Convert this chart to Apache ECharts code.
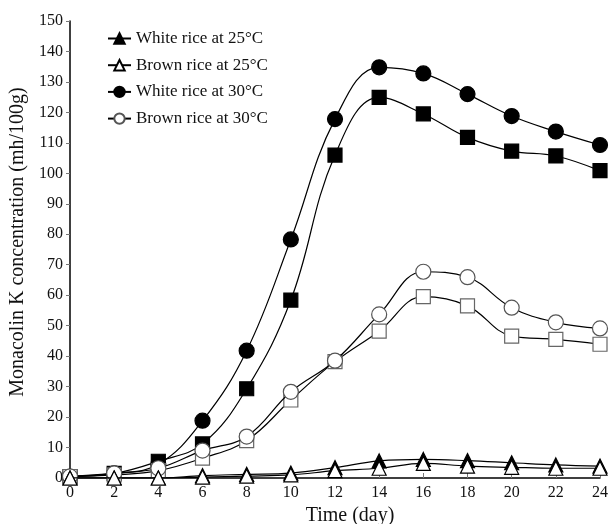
<!DOCTYPE html>
<html><head><meta charset="utf-8">
<script src="https://cdn.jsdelivr.net/npm/echarts@6/dist/echarts.min.js"></script>
<style>html,body{margin:0;padding:0;background:#fff}#c{width:610px;height:524px}</style>
</head><body><div id="c"></div>
<script>
const days = [0,2,4,6,8,10,12,14,16,18,20,22,24];
const whiteRice25 = [0,0,0,0.8,1.2,1.6,3.4,5.6,6.1,5.7,5.0,4.3,3.9];
const brownRice25 = [0,0,0,0.3,0.6,1.0,2.4,3.2,4.8,3.9,3.5,3.2,3.2];
const whiteRice30 = [0.5,1.5,4.5,18.8,41.8,78.3,117.8,134.8,132.8,126,118.8,113.7,109.3];
const whiteRiceSq = [0.5,1.5,5.5,11.2,29.3,58.4,106,124.9,119.5,111.8,107.3,105.7,100.9];
const brownRice30 = [0.5,1.5,3.2,9.0,13.6,28.3,38.5,53.7,67.7,65.9,55.9,51.1,49.1];
const brownRiceSq = [0.5,1.0,2.4,6.5,12.3,25.6,38.2,48.2,59.5,56.5,46.6,45.5,43.9];
const yTicks = {min:0,max:150,interval:10};
const xTicks = {min:0,max:24,interval:2};

const font = 'Liberation Serif, Times New Roman, serif';
function pairs(v){return days.map((d,i)=>[d,v[i]]);}
function mk(name,data,symbol,fill,border,z){
  return {name,type:'line',data:pairs(data),smooth:0.4,symbol,symbolSize:symbol==='triangle'?14:(symbol==='rect'?14:15),
    lineStyle:{color:'#000',width:1.2},itemStyle:{color:fill,borderColor:border,borderWidth:1.2},z,
    emphasis:{disabled:true}};
}
const chart = echarts.init(document.getElementById('c'),null,{renderer:'canvas'});
chart.setOption({
  animation:false,
  grid:{left:70,right:10,top:21,bottom:46,containLabel:false,outerBoundsMode:'none'},
  legend:{orient:'vertical',left:107,top:30,padding:0,itemWidth:23,itemHeight:13,itemGap:9.7,
    data:['White rice at 25°C','Brown rice at 25°C','White rice at 30°C','Brown rice at 30°C'],
    textStyle:{fontFamily:font,fontSize:17,color:'#111'}},
  xAxis:{type:'value',min:xTicks.min,max:xTicks.max,interval:xTicks.interval,
    name:'Time (day)',nameLocation:'middle',nameGap:19,
    nameTextStyle:{fontFamily:font,fontSize:20,color:'#111',padding:[0,0,0,30]},
    axisLine:{lineStyle:{color:'#000',width:1.5}},axisTick:{inside:true,length:5,lineStyle:{color:'#777'}},
    axisLabel:{fontFamily:font,fontSize:16,color:'#111',margin:7},splitLine:{show:false}},
  yAxis:{type:'value',min:yTicks.min,max:yTicks.max,interval:yTicks.interval,
    name:'Monacolin K concentration (mh/100g)',nameLocation:'middle',nameGap:40,
    nameTextStyle:{fontFamily:font,fontSize:20,color:'#111',padding:[0,0,0,15]},
    axisLine:{show:true,lineStyle:{color:'#000',width:1.5}},axisTick:{show:true,length:4,lineStyle:{color:'#777'}},
    axisLabel:{fontFamily:font,fontSize:16,color:'#111',margin:7},splitLine:{show:false}},
  series:[
    mk('White rice (square)',whiteRiceSq,'rect','#000','#000',3),
    mk('White rice at 30°C',whiteRice30,'circle','#000','#000',4),
    mk('Brown rice (square)',brownRiceSq,'rect','#fff','#666',5),
    mk('Brown rice at 30°C',brownRice30,'circle','#fff','#555',6),
    mk('White rice at 25°C',whiteRice25,'triangle','#000','#000',7),
    mk('Brown rice at 25°C',brownRice25,'triangle','#fff','#000',8)
  ]
});
</script></body></html>
